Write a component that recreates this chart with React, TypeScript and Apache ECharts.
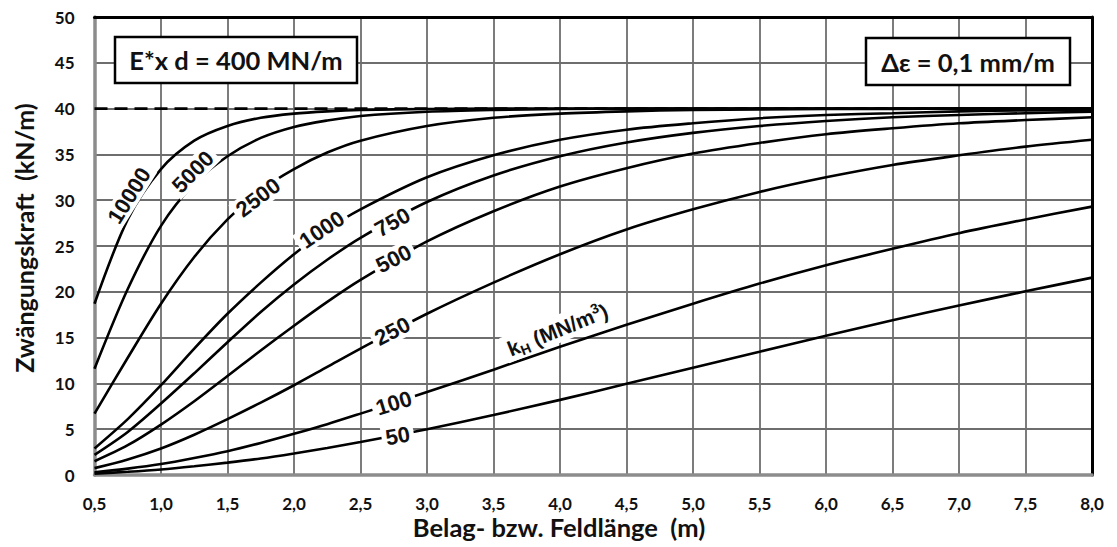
import React, { useEffect, useRef } from 'react';
import * as echarts from 'echarts';

// Belag- bzw. Feldlänge (m)
const lengths = [0.5, 0.75, 1.0, 1.25, 1.5, 1.75, 2.0, 2.25, 2.5, 3.0, 3.5, 4.0, 4.5, 5.0, 5.5, 6.0, 6.5, 7.0, 7.5, 8.0];

// Zwängungskraft (kN/m) for each k_H (MN/m³)
const kh10000 = [18.7, 27.9, 33.4, 36.5, 38.1, 39.0, 39.45, 39.7, 39.85, 39.95, 40, 40, 40, 40, 40, 40, 40, 40, 40, 40];
const kh5000 = [11.6, 20.3, 27.2, 31.8, 34.8, 36.8, 38.0, 38.7, 39.2, 39.65, 39.85, 39.95, 40, 40, 40, 40, 40, 40, 40, 40];
const kh2500 = [6.7, 12.8, 18.7, 23.8, 27.9, 31.1, 33.4, 35.2, 36.5, 38.1, 39.0, 39.45, 39.7, 39.85, 39.9, 39.95, 39.97, 40, 40, 40];
const kh1000 = [2.9, 6.1, 9.8, 13.8, 17.6, 21.0, 24.1, 26.8, 29.0, 32.5, 34.9, 36.6, 37.7, 38.4, 38.95, 39.3, 39.5, 39.7, 39.8, 39.85];
const kh750 = [2.2, 4.7, 7.8, 11.1, 14.5, 17.8, 20.8, 23.5, 25.9, 29.8, 32.7, 34.8, 36.3, 37.35, 38.1, 38.65, 39.05, 39.3, 39.5, 39.65];
const kh500 = [1.5, 3.25, 5.5, 8.05, 10.8, 13.6, 16.3, 18.9, 21.3, 25.5, 28.8, 31.5, 33.5, 35.1, 36.25, 37.2, 37.85, 38.4, 38.75, 39.05];
const kh250 = [0.75, 1.7, 2.9, 4.4, 6.1, 7.9, 9.8, 11.8, 13.8, 17.6, 21.0, 24.1, 26.8, 29.0, 30.9, 32.5, 33.85, 34.9, 35.85, 36.6];
const kh100 = [0.3, 0.7, 1.2, 1.86, 2.6, 3.5, 4.5, 5.55, 6.7, 9.05, 11.5, 14.0, 16.4, 18.7, 20.9, 22.9, 24.7, 26.4, 27.9, 29.3];
const kh50 = [0.15, 0.35, 0.6, 0.95, 1.35, 1.8, 2.35, 2.95, 3.6, 5.0, 6.55, 8.2, 9.95, 11.7, 13.45, 15.2, 16.9, 18.5, 20.05, 21.55];

const curveNames = ['10000', '5000', '2500', '1000', '750', '500', '250', '100', '50'];
const curveValues = [kh10000, kh5000, kh2500, kh1000, kh750, kh500, kh250, kh100, kh50];

// Grenzwert (gestrichelte Linie)
const limitForce = 40;

// Kurvenbeschriftungen (Position in Datenkoordinaten, Drehung in Grad)
const labelTexts = ['10000', '5000', '2500', '1000', '750', '500', '250', '100', '50'];
const labelX = [0.76, 1.24, 1.73, 2.21, 2.74, 2.75, 2.74, 2.75, 2.78];
const labelY = [30.5, 33.1, 30.3, 26.8, 27.6, 23.6, 15.7, 7.85, 4.26];
const labelRotate = [58, 45, 37, 34, 29, 27, 27, 17, 10];

const unitLabelPos = [3.98, 15.9];
const unitLabelRotate = 22;

const xTitle = 'Belag- bzw. Feldlänge  (m)';
const yTitle = 'Zwängungskraft  (kN/m)';
const box1Text = 'E*x d = 400 MN/m';
const box2Text = 'Δε = 0,1 mm/m';

const FONT = 'Lato, "Open Sans", sans-serif';
const LABEL_FONT = '"Liberation Sans", Arial, sans-serif';
const TEXT_COLOR = '#111111';

export default function App() {
  const ref = useRef<HTMLDivElement>(null);

  useEffect(() => {
    if (!ref.current) return;
    const chart = echarts.init(ref.current, undefined, { renderer: 'svg' });

    const curveSeries = curveValues.map((vals, i) => ({
      type: 'line',
      name: curveNames[i],
      data: lengths.map((x, j) => [x, vals[j]]),
      showSymbol: false,
      symbol: 'none',
      smooth: 0.3,
      lineStyle: { color: '#000', width: 2.6 },
      z: 3,
    }));

    const labelData = labelTexts.map((t, i) => ({
      value: [labelX[i], labelY[i]],
      label: { formatter: t, rotate: labelRotate[i] },
    }));

    const baseLabel = {
      show: true,
      position: 'inside',
      color: TEXT_COLOR,
      opacity: 1,
      textBorderWidth: 0,
      backgroundColor: '#fff',
      padding: [1, 4, 0, 4],
    };

    const option: any = {
      animation: false,
      backgroundColor: '#fff',
      grid: { left: 94.5, right: 25, top: 17, bottom: 72, containLabel: false },
      xAxis: [
        {
          type: 'value',
          min: 0.5,
          max: 8,
          interval: 0.5,
          position: 'bottom',
          axisLine: { show: true, onZero: false, lineStyle: { color: '#8c8c8c', width: 3.5 } },
          axisTick: { show: false },
          axisLabel: {
            formatter: (v: number) => v.toFixed(1).replace('.', ','),
            color: TEXT_COLOR,
            fontFamily: FONT,
            fontWeight: 'bold',
            fontSize: 17,
            margin: 20,
          },
          splitLine: { show: true, lineStyle: { color: '#6e6e6e', width: 1.8 } },
        },
        {
          type: 'value',
          min: 0.5,
          max: 8,
          interval: 0.5,
          position: 'top',
          axisLine: { show: true, onZero: false, lineStyle: { color: '#000', width: 3 } },
          axisTick: { show: false },
          axisLabel: { show: false },
          splitLine: { show: false },
        },
      ],
      yAxis: [
        {
          type: 'value',
          min: 0,
          max: 50,
          interval: 5,
          position: 'left',
          axisLine: { show: true, onZero: false, lineStyle: { color: '#8c8c8c', width: 3.5 } },
          axisTick: { show: false },
          axisLabel: {
            color: TEXT_COLOR,
            fontFamily: FONT,
            fontWeight: 'bold',
            fontSize: 17,
            margin: 20,
          },
          splitLine: { show: true, lineStyle: { color: '#6e6e6e', width: 1.8 } },
        },
        {
          type: 'value',
          min: 0,
          max: 50,
          interval: 5,
          position: 'right',
          axisLine: { show: true, onZero: false, lineStyle: { color: '#000', width: 3 } },
          axisTick: { show: false },
          axisLabel: { show: false },
          splitLine: { show: false },
        },
      ],
      series: [
        {
          type: 'line',
          name: 'limit',
          data: [[0.5, limitForce], [8, limitForce]],
          showSymbol: false,
          symbol: 'none',
          lineStyle: { color: '#000', width: 2.6, type: [13, 7] },
          z: 2,
        },
        ...curveSeries,
        {
          type: 'scatter',
          name: 'labels',
          data: labelData,
          symbolSize: 0,
          itemStyle: { color: '#000' },
          z: 10,
          label: {
            ...baseLabel,
            fontFamily: LABEL_FONT,
            fontWeight: 'bold',
            fontSize: 22,
          },
        },
        {
          type: 'scatter',
          name: 'unit',
          data: [{ value: unitLabelPos }],
          symbolSize: 0,
          itemStyle: { color: '#000' },
          z: 10,
          label: {
            ...baseLabel,
            rotate: unitLabelRotate,
            formatter: '{k|k}{sub|H}{k| (MN/m}{sup|3}{k|)}',
            rich: {
              k: { fontFamily: LABEL_FONT, fontWeight: 'bold', fontSize: 21, color: TEXT_COLOR, lineHeight: 26 },
              sub: { fontFamily: LABEL_FONT, fontWeight: 'bold', fontSize: 14, color: TEXT_COLOR, lineHeight: 26, verticalAlign: 'bottom' },
              sup: { fontFamily: LABEL_FONT, fontWeight: 'bold', fontSize: 14, color: TEXT_COLOR, lineHeight: 22, verticalAlign: 'top' },
            },
          },
        },
      ],
      graphic: [
        {
          type: 'text',
          x: 559,
          y: 527,
          z: 20,
          style: {
            text: xTitle,
            fill: TEXT_COLOR,
            fontFamily: FONT,
            fontWeight: 'bold',
            fontSize: 25.5,
            align: 'center',
            verticalAlign: 'middle',
          },
        },
        {
          type: 'text',
          x: 24,
          y: 238,
          rotation: Math.PI / 2,
          z: 20,
          style: {
            text: yTitle,
            fill: TEXT_COLOR,
            fontFamily: FONT,
            fontWeight: 'bold',
            fontSize: 25,
            align: 'center',
            verticalAlign: 'middle',
          },
        },
        {
          type: 'group',
          z: 20,
          children: [
            {
              type: 'rect',
              z: 20,
              shape: { x: 115, y: 37, width: 242, height: 46 },
              style: { fill: '#fff', stroke: '#000', lineWidth: 2.5 },
            },
            {
              type: 'text',
              z: 21,
              x: 236,
              y: 60,
              style: {
                text: box1Text,
                fill: TEXT_COLOR,
                fontFamily: FONT,
                fontWeight: 'bold',
                fontSize: 25.5,
                align: 'center',
                verticalAlign: 'middle',
              },
            },
            {
              type: 'rect',
              z: 20,
              shape: { x: 866, y: 38, width: 204, height: 47 },
              style: { fill: '#fff', stroke: '#000', lineWidth: 2.5 },
            },
            {
              type: 'text',
              z: 21,
              x: 968,
              y: 62,
              style: {
                text: box2Text,
                fill: TEXT_COLOR,
                fontFamily: FONT,
                fontWeight: 'bold',
                fontSize: 25.5,
                align: 'center',
                verticalAlign: 'middle',
              },
            },
          ],
        },
      ],
    };

    chart.setOption(option);
    return () => chart.dispose();
  }, []);

  return (
    <div
      ref={ref}
      style={{ position: 'absolute', left: 0, top: 0, width: 1117, height: 547, background: '#fff' }}
    />
  );
}
